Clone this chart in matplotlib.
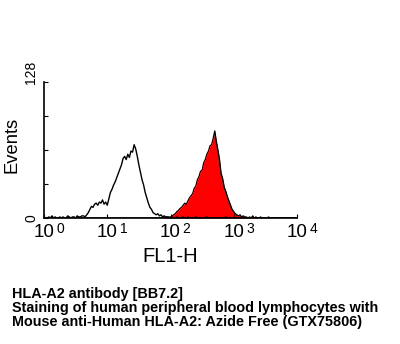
import numpy as np
import matplotlib.pyplot as plt
import matplotlib.transforms as mtransforms

# FL1-H log channels (decades 0..4)
log_channel = np.linspace(0, 4, 161)

# Unstained control (open black histogram)
control_counts = [
    1, 0, 0, 1, 0, 2, 0, 1, 0, 0, 1, 0, 1, 0, 0, 2, 1, 0, 1, 1, 0, 2, 1, 1, 2,
    2, 1, 3, 5, 8, 11, 10, 13, 14, 12, 15, 14, 17, 13, 15, 12, 18, 24, 27, 31,
    34, 38, 42, 46, 50, 56, 58, 55, 60, 57, 63, 62, 69, 65, 58, 50, 43, 36, 31,
    24, 19, 14, 10, 8, 5, 4, 3, 4, 2, 3, 1, 2, 1, 1,
    1, 0, 1, 0, 0, 1, 0, 0, 0, 1,
    0, 0, 1, 0, 0, 0, 0, 1, 0, 0,
    0, 0, 0, 0, 1, 0, 0, 0, 0, 0,
    0, 0, 0, 0, 0, 0, 1, 0, 0, 0,
    0, 0, 0, 0, 0, 0, 0, 0, 0, 0,
    0, 0, 0, 0, 0, 0, 0, 0, 0, 0,
    0, 0, 0, 0, 0, 0, 0, 0, 0, 0,
    0, 0, 0, 0, 0, 0, 0, 0, 0, 0,
    0, 0,
]

# HLA-A2 stained (red filled histogram)
stained_counts = [0] * 78 + [
    1, 0, 1, 2, 3, 4, 6, 7, 9, 10,
    12, 14, 13, 16, 19, 21, 23, 28, 30, 36,
    39, 44, 45, 52, 55, 60, 63, 68, 69, 75,
    82, 72, 64, 55, 42, 37, 29, 25, 20, 16,
    12, 8, 6, 4, 3, 2, 3, 1, 2, 1,
    1, 0, 1, 0, 2, 0, 1, 0, 0, 1,
    0, 0, 0, 0, 1, 0, 0, 0, 0, 0,
    0, 0, 0, 0, 0, 0, 0, 0, 0, 0,
    0, 0, 0,
]

decades = [0, 1, 2, 3, 4]
y_ticks = [0, 32, 64, 96, 128]

caption = [
    "HLA-A2 antibody [BB7.2]",
    "Staining of human peripheral blood lymphocytes with",
    "Mouse anti-Human HLA-A2: Azide Free (GTX75806)",
]

plt.rcParams['font.family'] = ['Liberation Sans', 'DejaVu Sans']

fig = plt.figure(figsize=(4, 3.44), dpi=100)
ax = fig.add_axes([0.11, 0.3663, 0.6325, 0.3953])

fl1 = 10 ** log_channel
ax.fill_between(fl1, stained_counts, color='#ff0000', lw=0)
ax.plot(fl1, stained_counts, color='black', lw=0.9)
ax.plot(fl1, control_counts, color='black', lw=1.0)

ax.set_xscale('log')
ax.set_xlim(1, 1e4)
ax.set_ylim(0, 128)
ax.spines['top'].set_visible(False)
ax.spines['right'].set_visible(False)
ax.spines['left'].set_linewidth(1.2)
ax.spines['bottom'].set_linewidth(1.2)

# x ticks: "10" with a large raised exponent
ax.set_xticks([10 ** d for d in decades])
ax.set_xticks([], minor=True)
ax.set_xticklabels(['10'] * len(decades), fontsize=13.5)
ax.tick_params(axis='x', direction='in', length=3, pad=4)
for d in decades:
    ax.annotate(str(d), xy=(10 ** d, 0), xycoords='data',
                xytext=(11.6, -3.2), textcoords='offset points',
                fontsize=10, ha='center', va='top')

# y ticks: only the ends are labelled, rotated
ax.set_yticks(y_ticks)
ax.set_yticklabels([])
ax.tick_params(axis='y', direction='in', length=3)
ytrans = mtransforms.blended_transform_factory(ax.transAxes, ax.transData)
ax.text(-0.051, 0, '0', transform=ytrans, rotation=90,
        fontsize=10, ha='center', va='center')
ax.text(-0.051, 137, '128', transform=ytrans, rotation=90,
        fontsize=10, ha='center', va='center')

fig.text(12 / 400, 1 - 145 / 344, 'Events', fontsize=13.2, rotation=90,
         ha='center', va='center')
ax.set_xlabel('FL1-H', fontsize=14.5, labelpad=4.5)

for i, line in enumerate(caption):
    fig.text(0.03, 1 - (294 + 14 * i) / 344, line, fontsize=10.35,
             fontweight='bold', va='center', ha='left')

fig.savefig('out.png', dpi=100)
